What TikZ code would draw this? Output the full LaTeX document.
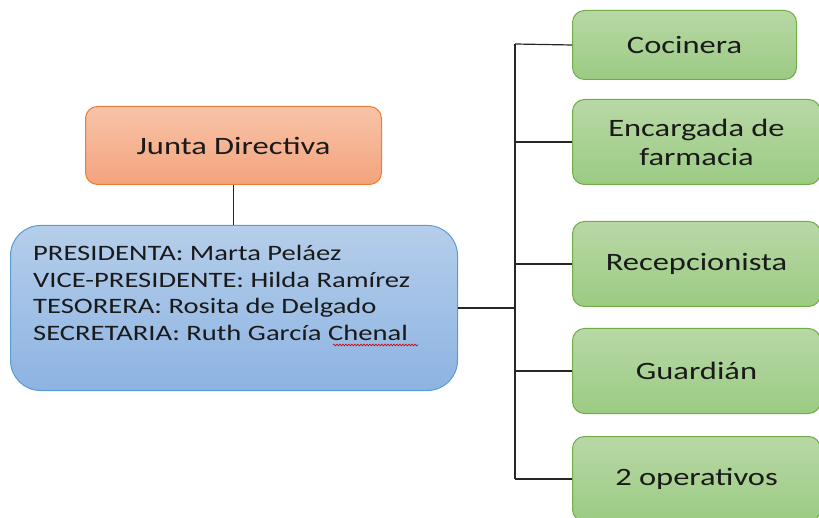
\documentclass[tikz,border=0pt]{standalone}
\usepackage{fontspec}
\setmainfont[FakeStretch=1.3]{Carlito}
\usetikzlibrary{decorations.pathmorphing}
\definecolor{orTop}{HTML}{F7C4A9}
\definecolor{orBot}{HTML}{F4A37C}
\definecolor{orLine}{HTML}{ED7D31}
\definecolor{blTop}{HTML}{B5CEEA}
\definecolor{blBot}{HTML}{8DB3E2}
\definecolor{blLine}{HTML}{5B9BD5}
\definecolor{grTop}{HTML}{B8D8A6}
\definecolor{grBot}{HTML}{9BCB83}
\definecolor{grLine}{HTML}{70AD47}
\definecolor{txt}{HTML}{1A1A1A}
\tikzset{
  px/.style={x=1pt,y=-1pt},
  orbox/.style={draw=orLine,line width=1pt,top color=orTop,bottom color=orBot,rounded corners=12pt,text=txt,font=\fontsize{25}{29}\selectfont},
  blbox/.style={draw=blLine,line width=1pt,top color=blTop,bottom color=blBot,rounded corners=30pt},
  grbox/.style={draw=grLine,line width=1pt,top color=grTop,bottom color=grBot,rounded corners=12pt,text=txt,align=center,font=\fontsize{25}{29}\selectfont},
  conn/.style={draw=black!85,line width=1.2pt},
}
\begin{document}
\begin{tikzpicture}[px]
\useasboundingbox (0,0) rectangle (819,518);
\begin{scope}
\clip (0,0) rectangle (819,518);
% Junta Directiva
\node[orbox,minimum width=296pt,minimum height=78pt,anchor=north west] (junta) at (85,106) {Junta Directiva};
% Board box
\node[blbox,minimum width=447pt,minimum height=165pt,anchor=north west] (board) at (10,225) {};
\node[anchor=north west,align=left,inner sep=0pt,text=txt,font=\fontsize{22}{26.7}\selectfont] (members) at (33,245)
 {PRESIDENTA: Marta Peláez\\VICE-PRESIDENTE: Hilda Ramírez\\TESORERA: Rosita de Delgado\\SECRETARIA: Ruth García Chenal};
% Green boxes
\node[grbox,minimum width=224pt,minimum height=69pt,anchor=north west] (coc) at (572,10) {Cocinera};
\node[grbox,minimum width=248pt,minimum height=85pt,anchor=north west] (far) at (572,99) {Encargada de\\farmacia};
\node[grbox,minimum width=248pt,minimum height=85pt,anchor=north west] (rec) at (572,221) {Recepcionista};
\node[grbox,minimum width=248pt,minimum height=85pt,anchor=north west] (gua) at (572,328) {Guardián};
\node[grbox,minimum width=248pt,minimum height=85pt,anchor=north west] (ope) at (572,436) {2 operativos};
\end{scope}
% spell-check underline
\coordinate (w1) at (333,345);
\coordinate (w2) at (418,345);
\draw[red!80!black,line width=0.6pt,decorate,decoration={snake,amplitude=0.9pt,segment length=3pt}] (w1) -- (w2);
% connectors
\coordinate (bus) at (515,308);
\coordinate (busTop) at (515,44);
\coordinate (busBot) at (515,479);
\draw[conn] (junta.south) -- (junta.south |- board.north);
\draw[conn,line width=1.8pt] (board.east |- bus) -- (bus);
\draw[conn] (busTop) -- (busBot);
\draw[conn] (busTop) -- (coc.west);
\draw[conn] (busTop |- far.west) -- (far.west);
\draw[conn] (busTop |- rec.west) -- (rec.west);
\draw[conn] (busTop |- gua.west) -- (gua.west);
\draw[conn] (busBot) -- (busBot -| ope.west);
\end{tikzpicture}
\end{document}
